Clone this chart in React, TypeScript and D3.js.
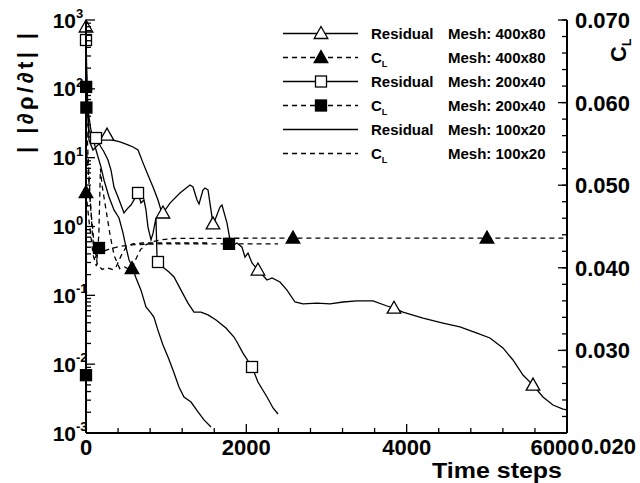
import React from "react";
import * as d3 from "d3";

// ---------- data ----------
const xTickValues = [0, 2000, 4000, 6000];
const xTickLabels = ["0", "2000", "4000", "6000"];
const yLeftExponents = [-3, -2, -1, 0, 1, 2, 3];
const yRightTicks = [0.02, 0.03, 0.04, 0.05, 0.06, 0.07];
const yRightLabels = ["0.020", "0.030", "0.040", "0.050", "0.060", "0.070"];

// Residual, mesh 400x80  [time step, ||dρ/dt||]
const res400: [number, number][] = [[0,791],[12,96],[37,18],[87,12.9],[150,15.3],[212,19.3],[262,21.3],[324,18.1],[424,16.9],[524,15.3],[586,14.3],[649,12.9],[711,8.4],[773,5.6],[836,3.75],[898,2.43],[935,1.74],[960,1.57],[1048,2.19],[1172,3.07],[1297,4.01],[1335,3.75],[1385,2.43],[1410,2.12],[1459,3.39],[1484,3.62],[1522,3.39],[1572,1.37],[1584,1.09],[1609,1.24],[1671,1.92],[1696,2.05],[1759,1.12],[1796,0.64],[1821,0.52],[1883,0.575],[1946,0.5],[1983,0.36],[2021,0.41],[2071,0.295],[2145,0.233],[2258,0.167],[2320,0.179],[2420,0.156],[2507,0.119],[2607,0.08],[2707,0.075],[2881,0.077],[3044,0.075],[3206,0.08],[3380,0.083],[3580,0.083],[3755,0.07],[3842,0.065],[3954,0.057],[4204,0.0468],[4453,0.0396],[4665,0.0347],[4877,0.0283],[5039,0.024],[5201,0.0172],[5326,0.0115],[5451,0.00695],[5576,0.00497],[5700,0.00333],[5825,0.00255],[5950,0.00223],[6000,0.00216]];
const res400Markers = [0, 262, 960, 1584, 2145, 3842, 5576];

// Residual, mesh 200x40
const res200: [number, number][] = [[0,512],[12,69],[37,25],[75,20.6],[125,19.3],[187,14.3],[225,12.1],[274,9.25],[312,6.6],[349,3.75],[399,2.68],[437,2.05],[474,1.57],[524,1.86],[561,2.05],[599,2.43],[649,3.07],[686,2.19],[723,2.43],[748,1.74],[773,0.98],[811,0.64],[836,0.8],[873,1.33],[886,0.348],[898,0.305],[973,0.249],[1035,0.218],[1098,0.185],[1185,0.119],[1272,0.077],[1347,0.057],[1434,0.057],[1522,0.052],[1622,0.0438],[1746,0.0335],[1846,0.0248],[1883,0.021],[1958,0.0145],[2071,0.0091],[2145,0.0055],[2258,0.00333],[2333,0.00231],[2395,0.00189]];
const res200Markers = [0, 125, 649, 898, 2071];

// Residual, mesh 100x20
const res100: [number, number][] = [[0,263],[25,49],[62,25],[125,12.9],[187,7.3],[225,4.7],[287,2.68],[349,1.74],[412,1.33],[462,0.8],[499,0.5],[536,0.33],[574,0.26],[624,0.179],[686,0.119],[748,0.068],[811,0.055],[848,0.048],[898,0.031],[960,0.019],[1023,0.0127],[1085,0.0082],[1160,0.00466],[1222,0.00333],[1310,0.00282],[1397,0.00202],[1472,0.00155],[1559,0.00122]];

// Lift coefficient C_L (right axis)
const cl400: [number, number][] = [[0,0.0491],[40,0.0455],[90,0.0415],[130,0.0402],[160,0.044],[180,0.052],[200,0.05],[250,0.047],[300,0.044],[350,0.0415],[420,0.0399],[480,0.0401],[540,0.0398],[574,0.0399],[620,0.041],[680,0.0422],[750,0.0428],[850,0.0432],[950,0.0434],[1100,0.04355],[2582,0.0436],[5002,0.0436],[6000,0.0436]];
const cl400Markers = [0, 574, 2582, 5002];

const cl200: [number, number][] = [[0,0.027],[2,0.0619],[5,0.0594],[15,0.056],[30,0.0525],[55,0.048],[80,0.044],[110,0.0412],[135,0.0415],[162,0.0424],[220,0.042],[300,0.0423],[420,0.0426],[600,0.0428],[900,0.0429],[1784,0.0429],[2395,0.0429]];
const cl200Markers = [0, 2, 5, 162, 1784];

const cl100: [number, number][] = [[0,0.0551],[25,0.052],[60,0.047],[100,0.043],[140,0.0405],[200,0.0398],[260,0.04],[330,0.0398],[380,0.0402],[440,0.0415],[500,0.0425],[580,0.0429],[700,0.043],[1559,0.043]];

const legendQuantities = ["Residual", "C_L", "Residual", "C_L", "Residual", "C_L"];
const legendMeshes = ["Mesh: 400x80", "Mesh: 400x80", "Mesh: 200x40", "Mesh: 200x40", "Mesh: 100x20", "Mesh: 100x20"];

// ---------- layout ----------
const W = 640, H = 483;
const X0 = 86, X1 = 567, Y0 = 433, Y1 = 20;
const x = d3.scaleLinear().domain([0, 6000]).range([X0, X1]);
const yL = d3.scaleLog().domain([1e-3, 1e3]).range([Y0, Y1]);
const yR = d3.scaleLinear().domain([0.02, 0.07]).range([Y0, Y1]);

const FONT = "'Liberation Sans', Arial, Helvetica, sans-serif";
const DASH = "5,4";
const SW = 1.3;

type MarkerKind = "triOpen" | "triFilled" | "sqOpen" | "sqFilled" | "none";

function Marker({ kind, cx, cy }: { kind: MarkerKind; cx: number; cy: number }) {
  if (kind === "none") return null;
  if (kind === "triOpen" || kind === "triFilled") {
    const p = `M${cx},${cy - 7}L${cx - 6.8},${cy + 5}L${cx + 6.8},${cy + 5}Z`;
    return <path d={p} fill={kind === "triOpen" ? "#fff" : "#000"} stroke="#000" strokeWidth={1.3} />;
  }
  const s = 11;
  return (
    <rect x={cx - s / 2} y={cy - s / 2} width={s} height={s}
      fill={kind === "sqOpen" ? "#fff" : "#000"} stroke="#000" strokeWidth={1.3} />
  );
}

const legendStyles: { dashed: boolean; marker: MarkerKind }[] = [
  { dashed: false, marker: "triOpen" },
  { dashed: true, marker: "triFilled" },
  { dashed: false, marker: "sqOpen" },
  { dashed: true, marker: "sqFilled" },
  { dashed: false, marker: "none" },
  { dashed: true, marker: "none" },
];

function QuantityLabel({ text, x0, y0, size, subSize }: { text: string; x0: number; y0: number; size: number; subSize: number }) {
  if (text === "C_L") {
    return (
      <text x={x0} y={y0} fontFamily={FONT} fontWeight="bold" fontSize={size}>
        C<tspan fontSize={subSize} dy={4}>L</tspan>
      </text>
    );
  }
  return <text x={x0} y={y0} fontFamily={FONT} fontWeight="bold" fontSize={size}>{text}</text>;
}

export default function App() {
  const lineL = d3.line<[number, number]>().x(d => x(d[0])).y(d => yL(d[1]));
  const lineR = d3.line<[number, number]>().x(d => x(d[0])).y(d => yR(d[1]));

  const resSeries = [
    { data: res400, markers: res400Markers, kind: "triOpen" as MarkerKind },
    { data: res200, markers: res200Markers, kind: "sqOpen" as MarkerKind },
    { data: res100, markers: [] as number[], kind: "none" as MarkerKind },
  ];
  const clSeries = [
    { data: cl400, markers: cl400Markers, kind: "triFilled" as MarkerKind },
    { data: cl200, markers: cl200Markers, kind: "sqFilled" as MarkerKind },
    { data: cl100, markers: [] as number[], kind: "none" as MarkerKind },
  ];

  const xMinor = d3.range(0, 6001, 400).filter(v => v % 2000 !== 0);
  const yLMinor: number[] = [];
  for (let e = -3; e < 3; e++) for (let m = 2; m <= 9; m++) yLMinor.push(m * Math.pow(10, e));
  const yRMinor = d3.range(0, 26).map(i => 0.02 + i * 0.002);

  return (
    <svg width={W} height={H} style={{ position: "absolute", left: 0, top: 0, background: "#fff" }}>
      <rect x={0} y={0} width={W} height={H} fill="#fff" />

      {/* CL dashed lines */}
      {clSeries.map((s, i) => (
        <path key={"cl" + i} d={lineR(s.data) || ""} fill="none" stroke="#000" strokeWidth={SW} strokeDasharray={DASH} />
      ))}
      {/* residual lines */}
      {resSeries.map((s, i) => (
        <path key={"r" + i} d={lineL(s.data) || ""} fill="none" stroke="#000" strokeWidth={SW} />
      ))}
      {/* markers */}
      {resSeries.map((s, i) =>
        s.data.filter(d => s.markers.includes(d[0])).map((d, j) => (
          <Marker key={`rm${i}-${j}`} kind={s.kind} cx={x(d[0])} cy={yL(d[1])} />
        ))
      )}
      {clSeries.map((s, i) =>
        s.data.filter(d => s.markers.includes(d[0])).map((d, j) => (
          <Marker key={`cm${i}-${j}`} kind={s.kind} cx={x(d[0])} cy={yR(d[1])} />
        ))
      )}

      {/* axes */}
      <g stroke="#000" strokeWidth={2} fill="none">
        <line x1={X0} y1={Y1} x2={X0} y2={Y0} />
        <line x1={X0} y1={Y0} x2={X1} y2={Y0} />
        <line x1={X1} y1={Y1} x2={X1} y2={Y0} />
      </g>
      <g stroke="#000" strokeWidth={1.3}>
        {xTickValues.map(v => <line key={"xt" + v} x1={x(v)} x2={x(v)} y1={Y0} y2={Y0 - 9} />)}
        {xMinor.map(v => <line key={"xm" + v} x1={x(v)} x2={x(v)} y1={Y0} y2={Y0 - 5} />)}
        {yLeftExponents.map(e => <line key={"yt" + e} x1={X0} x2={X0 + 9} y1={yL(Math.pow(10, e))} y2={yL(Math.pow(10, e))} />)}
        {yLMinor.map((v, i) => <line key={"ym" + i} x1={X0} x2={X0 + 5} y1={yL(v)} y2={yL(v)} />)}
        {yRightTicks.map(v => <line key={"rt" + v} x1={X1} x2={X1 - 9} y1={yR(v)} y2={yR(v)} />)}
        {yRMinor.map((v, i) => <line key={"rm" + i} x1={X1} x2={X1 - 5} y1={yR(v)} y2={yR(v)} />)}
      </g>

      {/* tick labels */}
      <g fontFamily={FONT} fontWeight="bold" fill="#000">
        {xTickValues.map((v, i) => (
          <text key={"xl" + v} x={i === 3 ? x(v) - 12 : x(v)} y={455} fontSize={22} textAnchor="middle">{xTickLabels[i]}</text>
        ))}
        {yLeftExponents.map(e => {
          const yy = yL(Math.pow(10, e));
          return (
            <g key={"yl" + e}>
              <text x={76} y={yy + 7.5} fontSize={21} textAnchor="end">10</text>
              <text x={76} y={yy - 2} fontSize={13} textAnchor="start">{String(e)}</text>
            </g>
          );
        })}
        {yRightTicks.map((v, i) => (
          <text key={"rl" + v} x={i === 0 ? 581 : 575} y={yR(v) + (i === 0 ? 21 : 8)} fontSize={22}>{yRightLabels[i]}</text>
        ))}
      </g>

      {/* axis titles */}
      <text x={562} y={478} fontFamily={FONT} fontWeight="bold" fontSize={22} textAnchor="end"
        textLength={130} lengthAdjust="spacingAndGlyphs">Time steps</text>
      <text transform="translate(33,93) rotate(-90)" fontFamily={FONT} fontWeight="bold" fontSize={22}
        textAnchor="middle" textLength={120} lengthAdjust="spacing">| |∂ρ/∂t| |</text>
      <text transform="translate(626,62) rotate(-90)" fontFamily={FONT} fontWeight="bold" fontSize={22}>
        C<tspan fontSize={12} dy={5}>L</tspan>
      </text>

      {/* legend */}
      {legendQuantities.map((q, i) => {
        const cy = 33.5 + i * 24;
        const st = legendStyles[i];
        return (
          <g key={"lg" + i}>
            <line x1={283} x2={358} y1={cy} y2={cy} stroke="#000" strokeWidth={SW}
              strokeDasharray={st.dashed ? DASH : undefined} />
            <Marker kind={st.marker} cx={321} cy={cy} />
            <QuantityLabel text={q} x0={371} y0={cy + 5} size={15} subSize={9} />
            <text x={448} y={cy + 5} fontFamily={FONT} fontWeight="bold" fontSize={15}>{legendMeshes[i]}</text>
          </g>
        );
      })}
    </svg>
  );
}
